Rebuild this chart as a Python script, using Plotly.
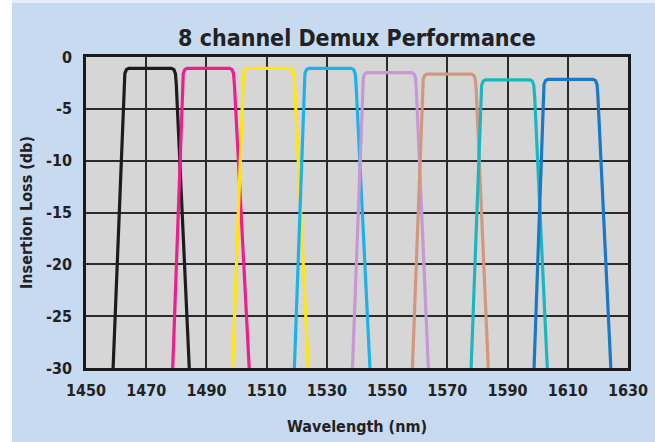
import plotly.graph_objects as go

# ---- data ----
channel_names = ["1471 nm", "1491 nm", "1511 nm", "1531 nm", "1551 nm", "1571 nm", "1591 nm", "1611 nm"]
colors = ["#1c1c1c", "#ec1f8e", "#ffe512", "#1cb3ec", "#c698d4", "#d3977d", "#1bb6c0", "#1a78c9"]
bottom_left = [1459.0, 1478.8, 1498.7, 1519.2, 1538.5, 1558.4, 1577.9, 1598.8]
side_left = [1462.6, 1482.0, 1502.0, 1522.4, 1541.8, 1561.7, 1581.1, 1601.8]
side_right = [1480.0, 1499.3, 1519.3, 1539.7, 1559.7, 1579.6, 1599.0, 1620.0]
bottom_right = [1484.3, 1504.2, 1523.8, 1544.3, 1563.7, 1583.6, 1603.2, 1624.3]
top_loss = [-1.1, -1.1, -1.1, -1.1, -1.5, -1.65, -2.2, -2.15]
floor_loss = -30

# rounded top corner profile (offset from the side / flat top)
corner_dx = [0.0, 0.3, 0.8, 1.6]
corner_dy = [-1.6, -0.5, -0.12, 0.0]

x_ticks = [1450, 1470, 1490, 1510, 1530, 1550, 1570, 1590, 1610, 1630]
x_tick_labels = ["1450", "1470", "1490", "1510", "1530", "1550", "1570", "1590", "1610", "1630"]
y_ticks = [0, -5, -10, -15, -20, -25, -30]
y_tick_labels = ["0", "-5", "-10", "-15", "-20", "-25", "-30"]

FONT = "Liberation Sans Narrow, DejaVu Sans Condensed, Arial Narrow, sans-serif"
W, H = 655, 442
ML, MR, MT, MB = 86, 27, 57, 74
PW, PH = W - ML - MR, H - MT - MB

fig = go.Figure()
for i in range(len(channel_names)):
    xs = [bottom_left[i]]
    ys = [floor_loss]
    for dx, dy in zip(corner_dx, corner_dy):
        xs.append(side_left[i] + dx)
        ys.append(top_loss[i] + dy)
    for dx, dy in reversed(list(zip(corner_dx, corner_dy))):
        xs.append(side_right[i] - dx)
        ys.append(top_loss[i] + dy)
    xs.append(bottom_right[i])
    ys.append(floor_loss)
    fig.add_trace(go.Scatter(
        x=xs, y=ys, mode="lines", name=channel_names[i],
        line=dict(color=colors[i], width=3.2),
        showlegend=False, hoverinfo="skip"))

# white strip on the left of the blue panel
fig.add_shape(type="rect", xref="paper", yref="paper",
              x0=-ML / PW, x1=(12 - ML) / PW, y0=-MB / PH, y1=1 + MT / PH,
              fillcolor="white", line=dict(width=0), layer="below")
fig.add_shape(type="rect", xref="paper", yref="paper",
              x0=(12 - ML) / PW, x1=1 + MR / PW, y0=1 + (MT - 3) / PH, y1=1 + MT / PH,
              fillcolor="#e3ecf7", line=dict(width=0), layer="below")

axis_font = dict(family=FONT, size=16, color="#222222", weight="bold")
fig.update_layout(
    width=W, height=H,
    margin=dict(l=ML, r=MR, t=MT, b=MB, pad=0),
    paper_bgcolor="#c7daf0",
    plot_bgcolor="#d6d6d6",
    title=dict(text="8 channel Demux Performance", x=(ML + PW / 2) / W, xref="container",
               xanchor="center", y=1 - 38 / H, yref="container", yanchor="middle",
               font=dict(family=FONT, size=23, color="#222222", weight="bold")),
    xaxis=dict(range=[1450, 1630], tickvals=x_ticks, ticktext=x_tick_labels,
               tickfont=axis_font, showgrid=True, gridcolor="#2b2b2b", gridwidth=1.6,
               showline=True, linecolor="#1a1a1a", linewidth=2.6, mirror=True,
               zeroline=False, ticks="", ticklabelstandoff=6, automargin=False,
               title=dict(text="Wavelength (nm)", font=axis_font, standoff=22)),
    yaxis=dict(range=[-30, 0], tickvals=y_ticks, ticktext=y_tick_labels,
               tickfont=axis_font, showgrid=True, gridcolor="#2b2b2b", gridwidth=1.6,
               showline=True, linecolor="#1a1a1a", linewidth=2.6, mirror=True,
               zeroline=False, ticks="", ticklabelstandoff=8, automargin=False,
               title=dict(text="Insertion Loss (db)", font=axis_font, standoff=10)),
)

fig.write_html("out.html", config={"displayModeBar": False},
               post_script="document.body.style.margin='0';document.body.style.padding='0';")
